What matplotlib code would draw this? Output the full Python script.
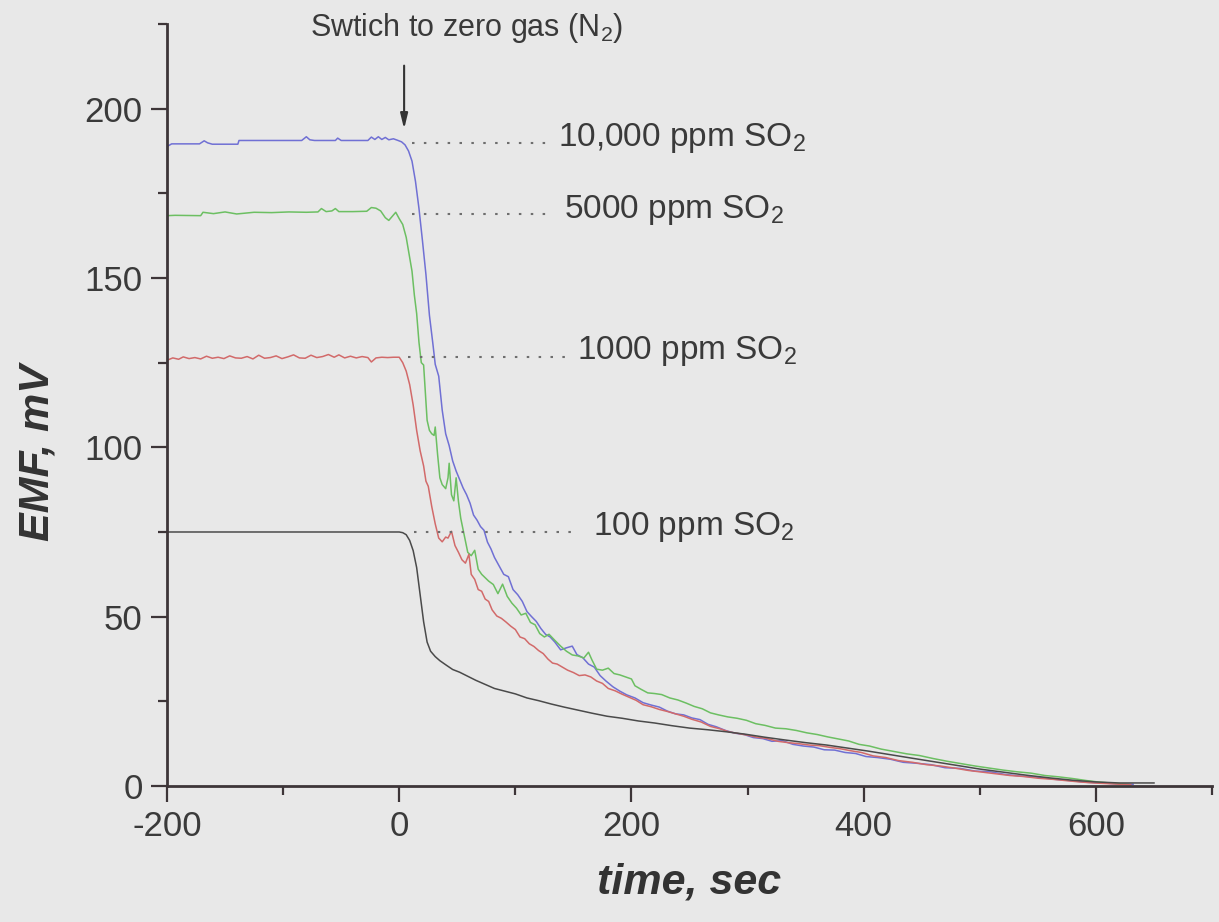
import matplotlib
matplotlib.use("Agg")
import matplotlib.pyplot as plt
from matplotlib.ticker import MultipleLocator

plt.rcParams['font.family'] = ['Liberation Sans', 'DejaVu Sans']
plt.rcParams['mathtext.fontset'] = 'custom'
plt.rcParams['mathtext.rm'] = 'Liberation Sans'
plt.rcParams['axes.unicode_minus'] = False

# EMF response after switching to zero gas (time in s, EMF in mV)
t_10000 = [-200, -196, -172, -168, -165, -161, -139, -138,
           -84, -80, -77, -73, -55, -53, -50,
           -27, -24, -21, -18, -15, -12, -9, -5, -1,
           2, 5, 8, 11, 14, 17, 20, 23, 26, 29,
           31, 34, 37, 40, 43, 46, 49, 52, 55, 58,
           61, 64, 67, 70, 73, 76, 79, 82, 86, 90,
           94, 98, 102, 106, 110, 114, 118, 122, 126, 130,
           134, 139, 144, 149, 153, 158, 163, 168, 173, 178,
           184, 190, 196, 203, 210, 217, 224, 231, 238, 245,
           252, 259, 266, 273, 281, 289, 297, 305, 313, 321,
           330, 339, 348, 357, 366, 375, 384, 393, 402, 412,
           423, 434, 446, 458, 470, 483, 496, 509, 522, 536,
           550, 564, 578, 592, 606, 620, 632]
emf_10000 = [188.8, 189.6, 189.6, 190.5, 189.9, 189.5, 189.5, 190.6,
             190.6, 191.7, 190.8, 190.6, 190.6, 191.3, 190.6,
             190.6, 191.6, 190.9, 191.7, 190.9, 191.5, 190.8, 191.1, 190.6,
             190.2, 189.3, 187.5, 184.5, 178.5, 170.5, 161.0, 151.0, 139.0, 130.5,
             124.5, 121.0, 111.0, 104.0, 100.5, 96.0, 93.0, 90.5, 88.0, 86.0,
             83.5, 80.0, 78.5, 76.6, 75.5, 72.0, 70.0, 67.5, 65.0, 62.5,
             61.8, 58.0, 56.5, 54.5, 51.5, 50.0, 48.6, 46.5, 44.8, 44.0,
             42.5, 40.2, 40.8, 41.3, 38.8, 37.9, 36.0, 35.1, 32.6, 31.0,
             29.3, 28.0, 26.9, 26.0, 24.6, 23.9, 23.3, 22.1, 21.3, 21.0,
             20.1, 19.6, 18.2, 17.5, 16.4, 15.6, 15.2, 14.3, 14.0, 13.2,
             13.4, 12.3, 11.8, 11.5, 10.7, 10.6, 9.9, 9.6, 8.7, 8.4,
             7.9, 7.0, 6.7, 6.3, 5.4, 5.2, 4.4, 4.2, 3.4, 2.9,
             2.6, 2.0, 1.6, 1.1, 0.9, 0.6, 0.5]

t_5000 = [-200, -193, -171, -169, -160, -150, -140, -125, -110, -95,
          -80, -70, -67, -63, -58, -55, -52, -40, -28, -24,
          -20, -16, -12, -9, -6, -3, 0, 3, 6, 9,
          11, 13, 15, 17, 19, 21, 22, 24, 26, 28,
          30, 31, 33, 35, 37, 40, 42, 43, 45, 47,
          49, 51, 53, 56, 59, 62, 65, 68, 71, 74,
          77, 81, 85, 89, 93, 97, 101, 105, 109, 113,
          117, 121, 125, 129, 134, 139, 144, 149, 154, 159,
          163, 166, 170, 175, 180, 185, 190, 195, 200, 203,
          208, 214, 220, 226, 233, 240, 247, 254, 261, 268,
          275, 283, 291, 299, 307, 315, 324, 333, 342, 351,
          360, 369, 378, 387, 396, 405, 415, 426, 437, 448,
          460, 472, 484, 496, 508, 520, 532, 544, 556, 568,
          580, 592, 604, 616, 628]
emf_5000 = [168.4, 168.5, 168.4, 169.4, 169.0, 169.5, 168.9, 169.4, 169.3, 169.5,
            169.4, 169.5, 170.5, 169.6, 169.8, 170.5, 169.6, 169.6, 169.7, 170.8,
            170.6, 169.8, 167.8, 167.0, 168.2, 169.4, 167.5, 165.8, 162.0, 156.0,
            152.0, 145.0, 139.5, 131.0, 125.0, 124.3, 119.0, 108.0, 105.0, 104.0,
            103.5, 106.0, 98.0, 91.0, 89.0, 87.8, 91.0, 95.3, 86.0, 84.2,
            91.0, 84.0, 79.0, 74.0, 69.0, 68.0, 69.6, 64.0, 62.5, 61.5,
            60.5, 59.5, 56.8, 59.6, 56.0, 54.0, 52.5, 50.5, 51.0, 48.3,
            47.6, 45.0, 44.0, 44.8, 43.0, 41.3, 39.8, 38.7, 38.4, 37.8,
            39.5, 37.2, 34.5, 34.2, 34.8, 33.2, 32.8, 32.2, 31.6, 29.6,
            28.6, 27.5, 27.3, 27.0, 26.0, 25.4, 24.5, 23.5, 22.8, 21.6,
            21.0, 20.4, 20.0, 19.4, 18.4, 17.9, 17.1, 16.9, 16.4, 15.7,
            15.2, 14.5, 13.9, 13.3, 12.3, 11.8, 10.9, 10.2, 9.5, 9.0,
            8.1, 7.3, 6.6, 5.9, 5.3, 4.7, 4.2, 3.8, 3.1, 2.7,
            2.2, 1.6, 1.1, 0.8, 0.5]

t_1000 = [-200, -195, -190, -186, -181, -176, -171, -166, -161, -156,
          -151, -146, -141, -136, -131, -126, -121, -116, -111, -106,
          -101, -96, -91, -86, -81, -76, -71, -66, -61, -56,
          -52, -47, -42, -37, -32, -27, -24, -20, -15, -10,
          -5, 0, 3, 6, 9, 12, 15, 18, 21, 23,
          25, 28, 31, 34, 37, 40, 42, 45, 48, 51,
          54, 57, 60, 62, 65, 68, 71, 74, 77, 80,
          84, 88, 92, 96, 100, 104, 108, 112, 116, 120,
          124, 128, 132, 136, 140, 145, 150, 155, 160, 165,
          170, 175, 180, 186, 192, 198, 204, 210, 217, 224,
          231, 238, 245, 252, 260, 268, 276, 284, 292, 300,
          308, 317, 326, 335, 344, 353, 362, 371, 380, 389,
          398, 408, 419, 430, 442, 454, 466, 478, 490, 502,
          514, 526, 538, 550, 562, 574, 586, 598, 610, 622,
          630]
emf_1000 = [125.7, 126.4, 126.0, 126.7, 126.2, 126.5, 126.1, 126.9, 126.3, 126.6,
            126.2, 127.0, 126.4, 126.3, 126.8, 126.1, 127.2, 126.3, 126.5, 127.0,
            126.2, 126.7, 127.3, 126.4, 126.3, 127.2, 126.5, 126.8, 127.4, 126.6,
            127.3, 126.4, 126.9, 126.4, 126.8, 126.5, 125.2, 126.4, 126.6, 126.5,
            126.6, 126.6, 125.0, 122.5, 118.5, 112.5, 105.0, 99.0, 94.5, 90.0,
            88.5, 82.5, 77.4, 73.2, 72.1, 73.5, 73.2, 75.2, 71.0, 69.0,
            66.8, 65.8, 68.4, 62.5, 61.0, 58.0, 57.5, 55.2, 54.5, 52.0,
            50.2, 49.5, 48.4, 47.2, 46.2, 44.0, 43.5, 42.0, 41.2, 40.0,
            39.1, 37.5, 36.3, 36.0, 35.2, 34.2, 33.5, 32.6, 32.8, 32.2,
            31.0, 30.3, 28.8, 28.1, 27.1, 26.2, 25.3, 24.0, 23.4, 22.6,
            22.0, 21.3, 20.6, 19.7, 18.9, 17.6, 16.9, 16.0, 15.5, 15.0,
            14.4, 14.0, 13.2, 12.8, 12.5, 12.1, 11.9, 11.4, 11.0, 10.4,
            9.9, 8.9, 8.4, 7.5, 7.0, 6.3, 5.9, 5.3, 4.6, 4.1,
            3.6, 3.1, 2.8, 2.3, 2.0, 1.6, 1.2, 0.9, 0.7, 0.5,
            0.4]

t_100 = [-200, -150, -100, -50, 0, 3, 6, 9, 12, 15,
         18, 21, 24, 27, 31, 35, 40, 46, 52, 59,
         66, 74, 82, 91, 100, 110, 120, 131, 142, 154,
         166, 179, 192, 206, 220, 235, 250, 266, 282, 298,
         315, 332, 350, 368, 386, 404, 422, 440, 460, 480,
         500, 520, 540, 560, 580, 600, 620, 650]
emf_100 = [75.0, 75.0, 75.0, 75.0, 75.0, 74.8, 74.2, 72.5, 69.5, 64.5,
           56.5, 48.5, 42.5, 39.8, 38.2, 37.0, 35.8, 34.4, 33.6, 32.4,
           31.2, 30.0, 28.8, 28.0, 27.2, 26.0, 25.2, 24.2, 23.3, 22.4,
           21.5, 20.6, 20.0, 19.2, 18.6, 17.8, 17.1, 16.6, 16.0, 15.3,
           14.4, 13.6, 12.8, 12.1, 11.2, 10.3, 9.3, 8.3, 7.2, 6.1,
           5.0, 4.1, 3.2, 2.4, 1.7, 1.2, 0.9, 0.9]

series_labels = ['10,000 ppm SO$_2$', '5000 ppm SO$_2$', '1000 ppm SO$_2$', '100 ppm SO$_2$']
plateau_emf = [190.0, 169.0, 126.8, 75.0]

bg = '#e8e8e8'
ink = '#3a3a3a'
axis_col = '#3d3538'

fig = plt.figure(figsize=(12.19, 9.22), dpi=100, facecolor=bg)
ax = fig.add_axes([0.137, 0.1475, 0.8573, 0.8265])
ax.set_facecolor(bg)

ax.plot(t_10000, emf_10000, color='#7070d4', lw=1.1)
ax.plot(t_5000, emf_5000, color='#6cbf62', lw=1.1)
ax.plot(t_1000, emf_1000, color='#d26a6a', lw=1.1)
ax.plot(t_100, emf_100, color='#4a4a4a', lw=1.1)

# dotted leaders from each plateau to its label
leader_start = [11, 10.6, 7.9, 12.4]
leader_end = [131, 128, 146.5, 150.7]
label_x = [136.6, 141.8, 153.3, 166.8]
label_y = [189.0, 167.8, 126.2, 74.2]
for y, x0, x1 in zip(plateau_emf, leader_start, leader_end):
    ax.plot([x0, x1], [y, y], color='#6e6e6e', lw=1.5, ls=(0, (1.2, 4.5)))
for txt, x, y in zip(series_labels, label_x, label_y):
    ax.text(x, y, txt, fontsize=24, color=ink, ha='left', va='baseline')

ax.text(-77, 221.5, 'Swtich to zero gas (N$_2$)', fontsize=22, color=ink,
        ha='left', va='baseline')
ax.annotate('', xy=(4.2, 194.0), xytext=(4.2, 212.7),
            arrowprops=dict(arrowstyle='-|>,head_length=0.9,head_width=0.22',
                            color='#333333', lw=1.5, shrinkA=0, shrinkB=0))

ax.set_xlim(-200, 700)
ax.set_ylim(0, 225)
ax.xaxis.set_major_locator(MultipleLocator(200))
ax.xaxis.set_minor_locator(MultipleLocator(100))
ax.yaxis.set_major_locator(MultipleLocator(50))
ax.yaxis.set_minor_locator(MultipleLocator(25))

for side in ['top', 'right']:
    ax.spines[side].set_visible(False)
for side in ['left', 'bottom']:
    ax.spines[side].set_color(axis_col)
    ax.spines[side].set_linewidth(2.0)

ax.tick_params(which='major', direction='out', length=11.5, width=1.6,
               color=axis_col, labelsize=25, labelcolor=ink, pad=6)
ax.tick_params(which='minor', direction='out', length=6.5, width=1.6,
               color=axis_col)

ax.set_xlabel('time, sec', fontsize=31, fontweight='bold', fontstyle='italic',
              color='#333333')
ax.set_ylabel('EMF, mV', fontsize=31, fontweight='bold', fontstyle='italic',
              color='#333333')
ax.xaxis.set_label_coords(0.5, -0.1)
ax.yaxis.set_label_coords(-0.105, 0.438)

fig.savefig('out.png', dpi=100, facecolor=bg)
